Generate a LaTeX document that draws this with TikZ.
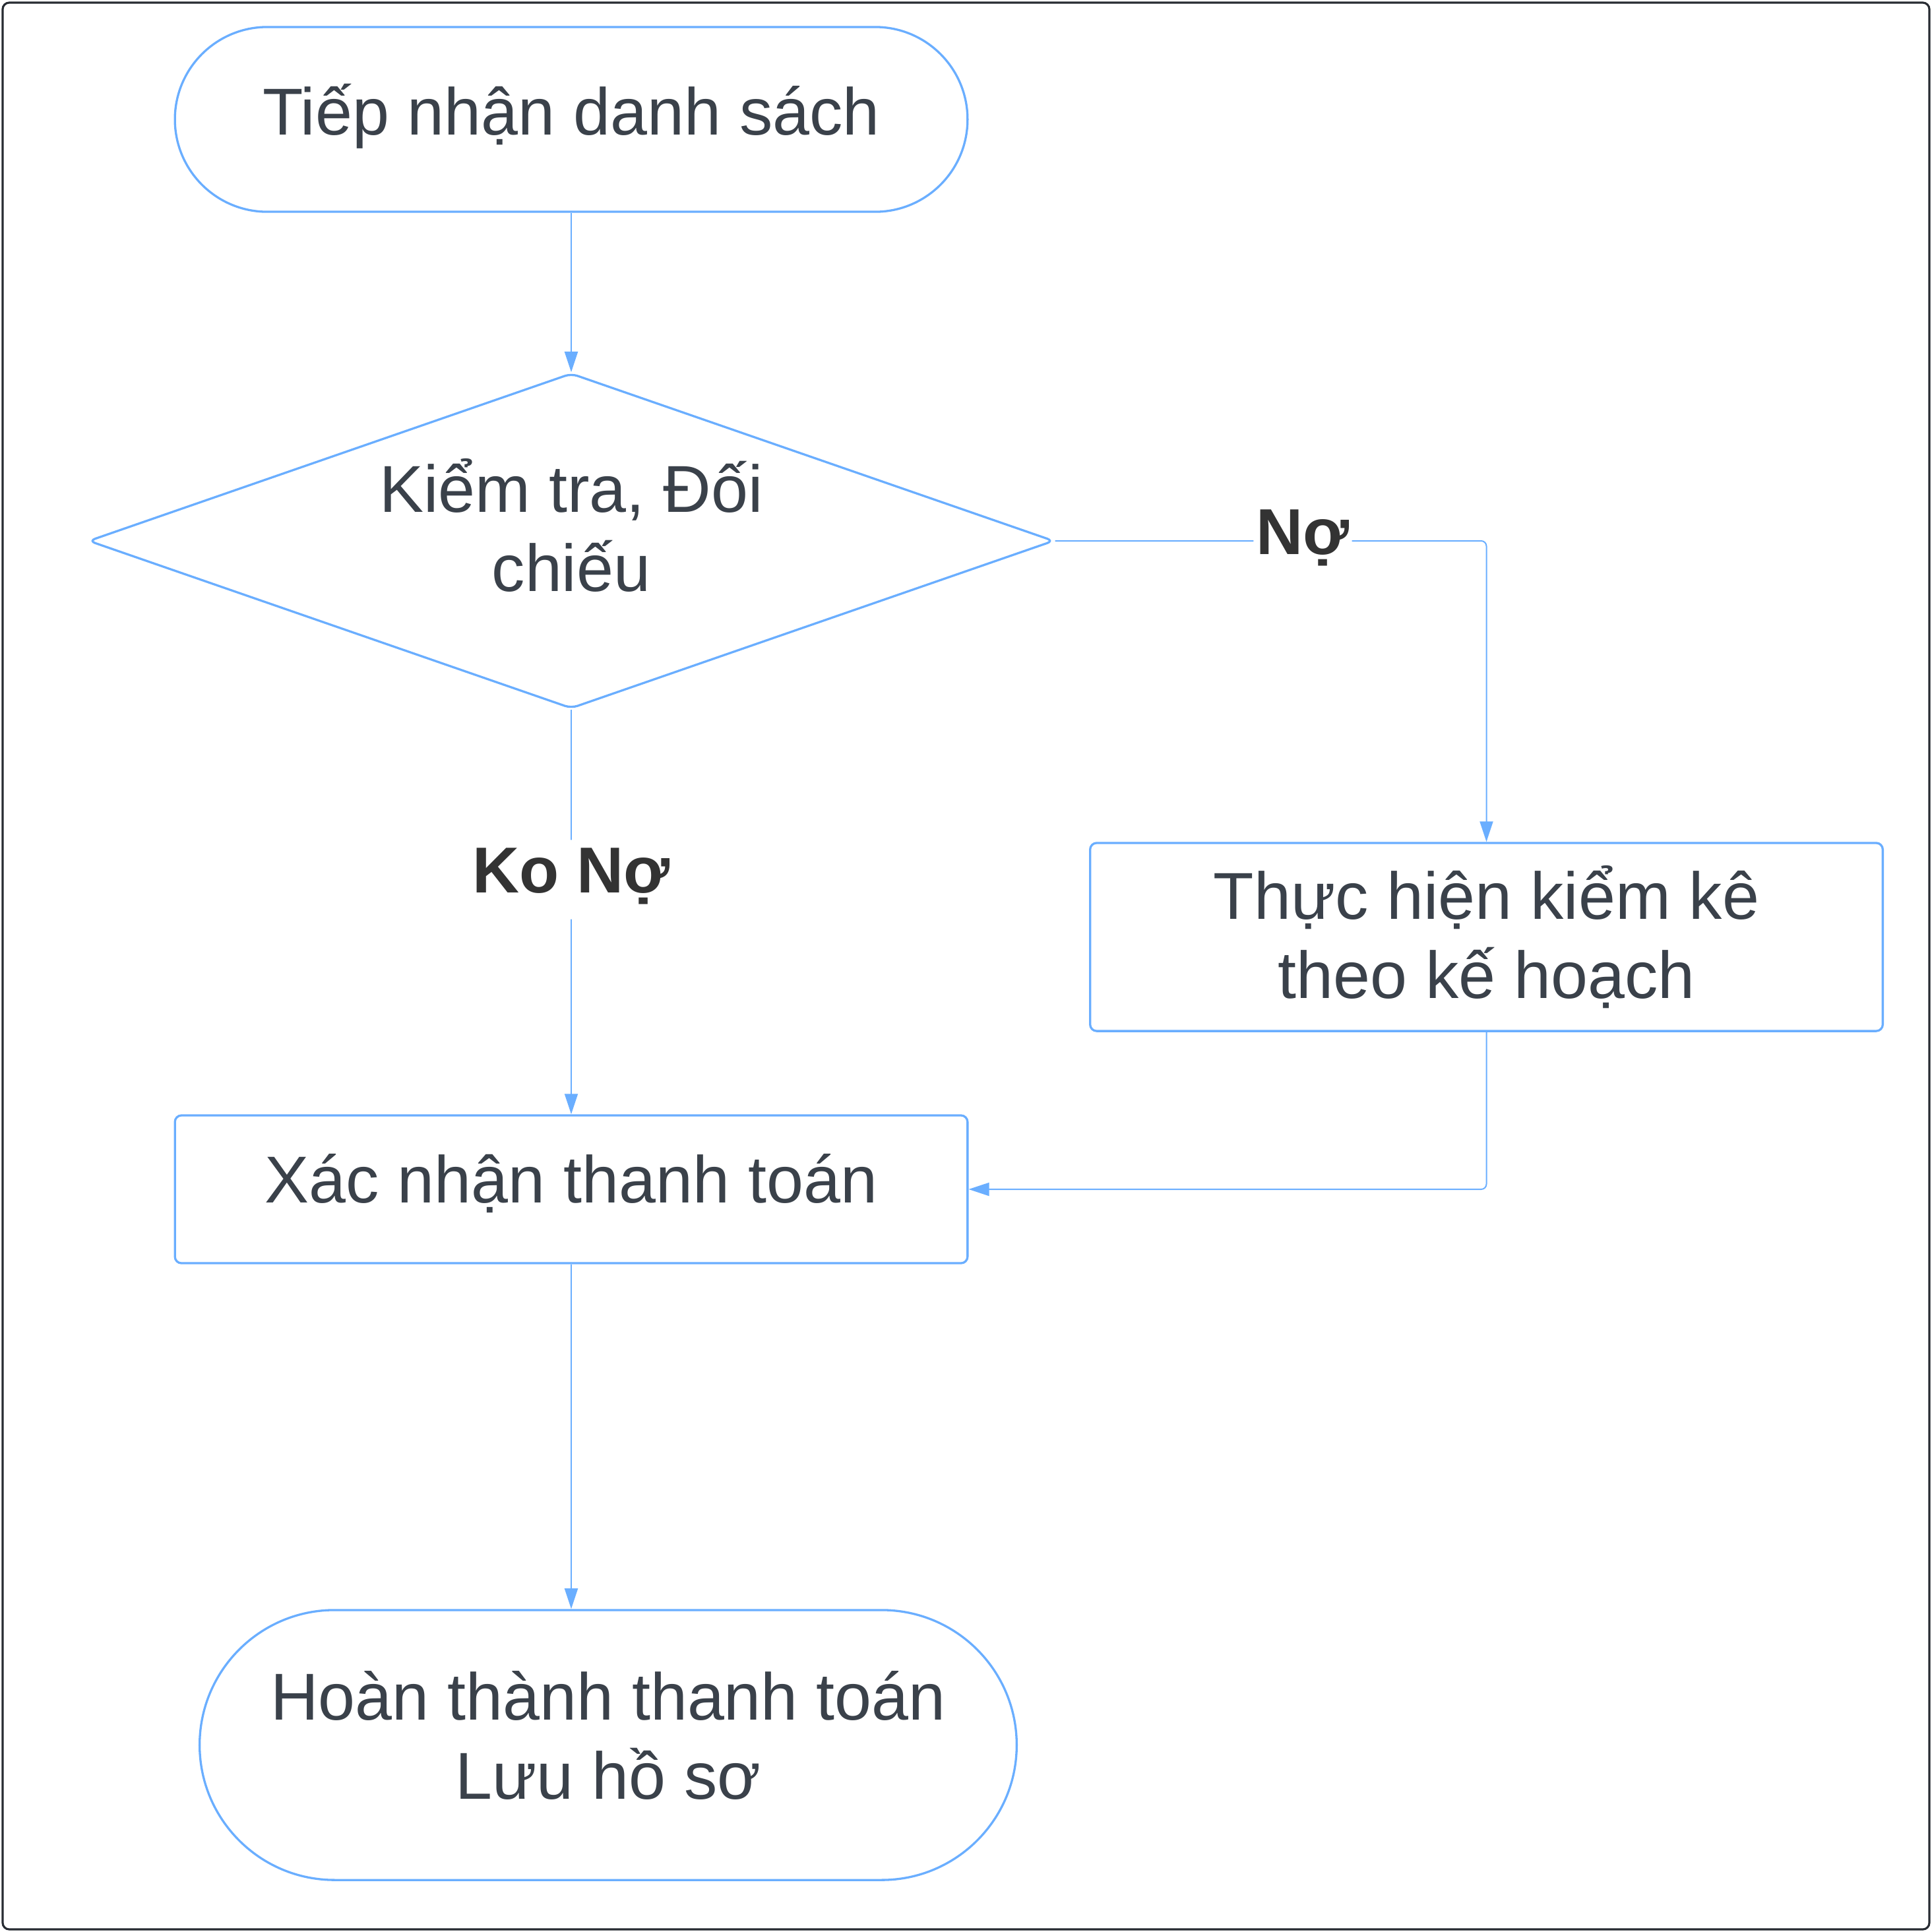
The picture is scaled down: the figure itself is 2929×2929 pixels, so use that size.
\documentclass[tikz,border=0pt]{standalone}
\usepackage{fontspec}
\setmainfont{Liberation Sans}
\usetikzlibrary{shapes.geometric,arrows.meta}

\definecolor{lineblue}{HTML}{6AAEFF}
\definecolor{txtgray}{HTML}{3A414A}
\definecolor{lblgray}{HTML}{333333}
\definecolor{framegray}{HTML}{282C33}

\begin{document}
\begin{tikzpicture}[x=0.01cm, y=-0.01cm,
	every node/.style={font=\fontsize{28.6}{34.3}\selectfont, text=txtgray, align=center, inner sep=0pt},
	shapeline/.style={draw=lineblue, line width=0.94pt},
	terminal/.style={shapeline, rectangle},
	process/.style={shapeline, rectangle, rounded corners=0.1cm},
	decision/.style={shapeline, diamond, shape aspect=2.87, rounded corners=0.1cm},
	flow/.style={draw=lineblue, line width=0.57pt, rounded corners=0.08cm, -{Triangle[length=0.31cm, width=0.2cm]}},
	answer/.style={fill=white, text=lblgray, font=\fontsize{28}{33.6}\selectfont\bfseries, inner xsep=0.04cm, inner ysep=0pt, text height=0.8cm, text depth=0.4cm}]
	\useasboundingbox (0,0) rectangle (2929,2929);
	\draw[framegray, line width=0.9pt, rounded corners=0.1cm] (4,4) rectangle (2925,2925);

			\node[terminal, rounded corners=1.4cm, minimum width=12.01cm, minimum height=2.8cm, text height=0.764cm, text depth=0.3cm] (start) at (866,181) {Tiếp nhận danh sách};
			\node[decision, minimum width=14.63cm, minimum height=5.08cm] (check) at (866,820) {Kiểm tra, Đối\\chiếu\rule[-0.48cm]{0pt}{0pt}};
			\node[process, minimum width=12.01cm, minimum height=2.85cm] (inventory) at (2253.5,1420.5) {Thực hiện kiểm kê\\theo kế hoạch};
			\node[process, minimum width=12.01cm, minimum height=2.24cm, text height=0.72cm, text depth=0.32cm] (confirm) at (866,1803) {Xác nhận thanh toán};
			\node[terminal, rounded corners=2.045cm, minimum width=12.38cm, minimum height=4.09cm] (finish) at (922,2645.5) {Hoàn thành thanh toán\\Lưu hồ sơ\rule[-0.3cm]{0pt}{0pt}};

			\draw[flow] (start) -- (check);
			\draw[flow] (check.east) -| node[answer, pos=0.287] {Nợ} (inventory.north);
			\draw[flow] (check) -- node[answer, pos=0.42] {Ko Nợ} (confirm);
			\draw[flow] (inventory.south) |- (confirm.east);
			\draw[flow] (confirm.south) -- (confirm.south |- finish.north);
\end{tikzpicture}
\end{document}
